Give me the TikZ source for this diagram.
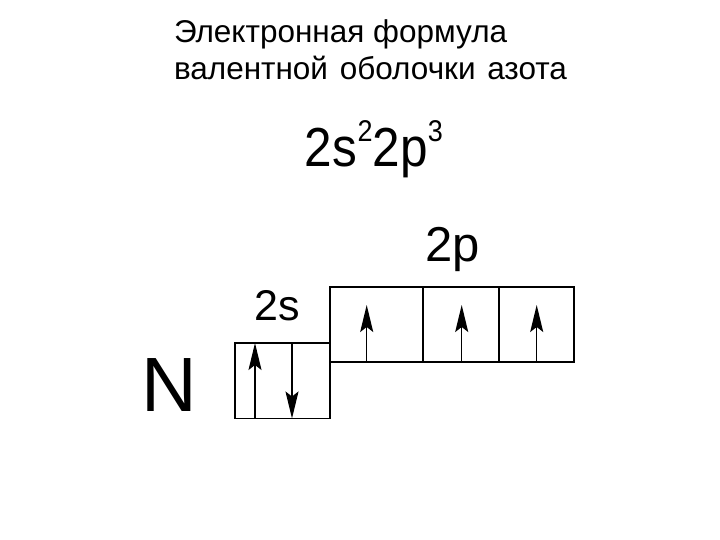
\documentclass[tikz,border=0pt]{standalone}
\usepackage{fontspec}
\setmainfont{Liberation Sans}
\usetikzlibrary{arrows.meta}
\begin{document}
\begin{tikzpicture}[x=1pt,y=-1pt,
  txt/.style={inner sep=0pt,outer sep=0pt,anchor=base west},
  cell/.style={draw=black,line width=1.4pt,inner sep=0pt,outer sep=0pt,anchor=north west},
  spin/.style={line width=1.5pt,-{Stealth[length=27pt,width=13pt,inset=5pt]}}]
\useasboundingbox (0,0) rectangle (720,540);
\node[txt] (t1) at (174,43) {\fontsize{31.5}{34}\selectfont Электронная формула};
\node[txt] (t2) at (174,80) {\fontsize{31.5}{34}\selectfont валентной\kern3pt{} оболочки\kern3pt{} азота};
\node[txt] (f) at (304.5,166.5) {\scalebox{0.9}[1]{\fontsize{55}{60}\selectfont 2s\kern1pt\raisebox{25pt}{\fontsize{30}{32}\selectfont 2}2p\raisebox{25pt}{\fontsize{30}{32}\selectfont 3}}};
\node[txt] (lp) at (425,261.7) {\fontsize{49}{52}\selectfont 2p};
\node[txt] (ls) at (254.5,320) {\fontsize{43}{46}\selectfont 2s};
\node[txt] (n) at (141,411) {\fontsize{77}{80}\selectfont N};
\node[cell,minimum width=95pt,minimum height=75.5pt] (s) at (235,343) {};
\node[cell,minimum width=93pt,minimum height=75pt] (p1) at (330,287) {};
\node[cell,minimum width=76pt,minimum height=75pt] (p2) at (423,287) {};
\node[cell,minimum width=75pt,minimum height=75pt] (p3) at (499,287) {};
\draw[spin] ([xshift=-27.5pt]s.south) -- ([xshift=-27.5pt]s.north);
\draw[spin] ([xshift=9.5pt]s.north) -- ([xshift=9.5pt]s.south);
\draw[spin] ([xshift=-9.8pt]p1.south) -- ([xshift=-9.8pt,yshift=-18pt]p1.north);
\draw[spin] ([xshift=0.7pt]p2.south) -- ([xshift=0.7pt,yshift=-18pt]p2.north);
\draw[spin] ([xshift=0.2pt]p3.south) -- ([xshift=0.2pt,yshift=-18pt]p3.north);
\end{tikzpicture}
\end{document}
